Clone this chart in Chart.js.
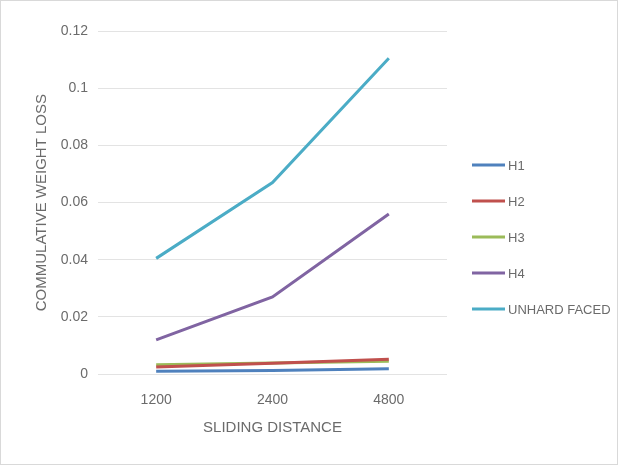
<!DOCTYPE html>
<html>
<head>
<meta charset="utf-8">
<script src="https://cdn.jsdelivr.net/npm/chart.js@4.4.0/dist/chart.umd.min.js"></script>
<style>
  html, body { margin: 0; padding: 0; background: #fff; }
  #wrap { position: relative; width: 618px; height: 465px; box-sizing: border-box; border: 1px solid #d9d9d9; }
</style>
</head>
<body>
<div id="wrap"><canvas id="wearChart" width="616" height="463"></canvas></div>
<script>
const distances = ['1200', '2400', '4800'];
const seriesNames = ['H1', 'H2', 'H3', 'H4', 'UNHARD FACED'];
const h1 = [0.001, 0.0013, 0.0019];
const h2 = [0.0025, 0.0038, 0.0052];
const h3 = [0.0033, 0.0039, 0.0045];
const h4 = [0.012, 0.027, 0.056];
const unhard = [0.0405, 0.067, 0.1105];
const yTicks = [0, 0.02, 0.04, 0.06, 0.08, 0.1, 0.12];

const colors = ['#4F81BD', '#C0504D', '#9BBB59', '#8064A2', '#4BACC6'];
const values = [h1, h2, h3, h4, unhard];

const textColor = '#6b6b6b';
const fontFamily = "'Liberation Sans', Arial, sans-serif";

// legend drawn by hand so it sits where Excel put it
const sideLegend = {
    id: 'sideLegend',
    afterDraw(chart) {
        const ctx = chart.ctx;
        const x0 = chart.chartArea.right + 25;
        const y0 = 164;
        ctx.save();
        ctx.font = '13px ' + fontFamily;
        ctx.textBaseline = 'middle';
        chart.data.datasets.forEach((ds, i) => {
            const y = y0 + i * 36;
            ctx.strokeStyle = ds.borderColor;
            ctx.lineWidth = 3;
            ctx.beginPath();
            ctx.moveTo(x0, y);
            ctx.lineTo(x0 + 33, y);
            ctx.stroke();
            ctx.fillStyle = textColor;
            ctx.fillText(ds.label, x0 + 36, y + 1);
        });
        ctx.restore();
    }
};

const data = {
    labels: distances,
    datasets: seriesNames.map((name, i) => ({
        label: name,
        data: values[i],
        borderColor: colors[i],
        backgroundColor: colors[i],
        borderWidth: 3,
        pointRadius: 0,
        tension: 0,
    }))
};

const config = {
    type: 'line',
    data: data,
    options: {
        responsive: false,
        animation: false,
        layout: { padding: { left: 32, top: 30, right: 170, bottom: 23 } },
        scales: {
            x: {
                offset: true,
                grid: { display: false },
                border: { display: false },
                ticks: { color: textColor, font: { family: fontFamily, size: 14 }, padding: 10 },
                title: {
                    display: true,
                    text: 'SLIDING DISTANCE',
                    color: textColor,
                    font: { family: fontFamily, size: 15 },
                    padding: { top: 0 }
                }
            },
            y: {
                min: 0,
                max: 0.12,
                afterBuildTicks: scale => { scale.ticks = yTicks.map(v => ({ value: v })); },
                afterFit: scale => { scale.width = 65; },
                grid: { color: '#e3e3e3', drawTicks: false },
                border: { display: false },
                ticks: {
                    color: textColor,
                    font: { family: fontFamily, size: 14 },
                    padding: 10,
                    callback: v => String(+v.toFixed(2))
                },
                title: {
                    display: true,
                    text: 'COMMULATIVE WEIGHT LOSS',
                    color: textColor,
                    font: { family: fontFamily, size: 15 },
                    padding: { top: 0, bottom: 0 }
                }
            }
        },
        plugins: {
            legend: { display: false },
            tooltip: { enabled: false }
        }
    },
    plugins: [sideLegend]
};

new Chart(document.getElementById('wearChart'), config);
</script>
</body>
</html>
